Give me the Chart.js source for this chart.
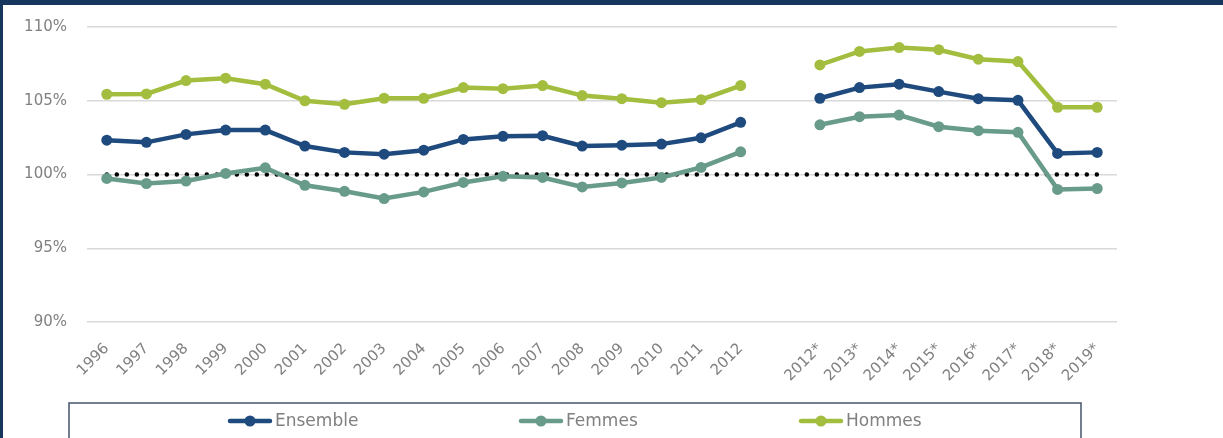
<!DOCTYPE html>
<html>
<head>
<meta charset="utf-8">
<script src="https://cdn.jsdelivr.net/npm/chart.js@4"></script>
<style>
  html, body { margin: 0; padding: 0; background: #fff; }
  .frame {
    width: 1220px;
    height: 433px;
    border-top: 5px solid #17365d;
    border-left: 3px solid #17365d;
    position: relative;
  }
  canvas { display: block; }
</style>
</head>
<body>
<div class="frame">
  <canvas id="chart" width="1220" height="433"></canvas>
</div>
<script>
const categories = ['1996', '1997', '1998', '1999', '2000', '2001', '2002', '2003', '2004', '2005',
  '2006', '2007', '2008', '2009', '2010', '2011', '2012', '',
  '2012*', '2013*', '2014*', '2015*', '2016*', '2017*', '2018*', '2019*'];

const ensemble = [102.33, 102.18, 102.72, 103.01, 103.01, 101.93, 101.5, 101.38, 101.65, 102.38,
  102.59, 102.63, 101.93, 101.99, 102.06, 102.49, 103.54, null,
  105.17, 105.89, 106.12, 105.62, 105.14, 105.03, 101.43, 101.5];

const femmes = [99.73, 99.39, 99.56, 100.07, 100.45, 99.27, 98.86, 98.37, 98.82, 99.46,
  99.88, 99.8, 99.16, 99.43, 99.8, 100.48, 101.54, null,
  103.37, 103.92, 104.03, 103.24, 102.97, 102.86, 98.99, 99.05];

const hommes = [105.44, 105.46, 106.37, 106.53, 106.12, 105.0, 104.76, 105.17, 105.17, 105.89,
  105.82, 106.03, 105.35, 105.14, 104.87, 105.07, 106.03, null,
  107.43, 108.34, 108.61, 108.46, 107.82, 107.66, 104.56, 104.56];

const reference = [100, 100, 100, 100, 100, 100, 100, 100, 100, 100, 100, 100, 100,
  100, 100, 100, 100, 100, 100, 100, 100, 100, 100, 100, 100, 100];

const yTicks = [90, 95, 100, 105, 110];

const colors = {
  ensemble: '#1f4a7e',
  femmes: '#689b89',
  hommes: '#a3be3e',
};
const textColor = '#808080';
const fontFamily = '"DejaVu Sans", sans-serif';

function serie(label, data, color) {
  return {
    label: label,
    data: data,
    borderColor: color,
    backgroundColor: color,
    borderWidth: 4.5,
    pointRadius: 5.5,
    pointHoverRadius: 5.5,
    pointBorderWidth: 0,
    tension: 0,
    spanGaps: false,
  };
}

// legend in a framed box under the axis, line + marker samples
const boxedLegend = {
  id: 'boxedLegend',
  afterDraw(chart) {
    const ctx = chart.ctx;
    ctx.save();
    ctx.strokeStyle = '#44546a';
    ctx.lineWidth = 1.5;
    ctx.strokeRect(66, 398, 1012, 60);

    const items = [
      { label: 'Ensemble', color: colors.ensemble, x: 225 },
      { label: 'Femmes', color: colors.femmes, x: 516 },
      { label: 'Hommes', color: colors.hommes, x: 796 },
    ];
    const y = 416;
    ctx.font = '17px ' + fontFamily;
    ctx.textBaseline = 'middle';
    items.forEach(item => {
      ctx.strokeStyle = item.color;
      ctx.lineWidth = 4.5;
      ctx.lineCap = 'round';
      ctx.beginPath();
      ctx.moveTo(item.x + 2, y);
      ctx.lineTo(item.x + 42, y);
      ctx.stroke();
      ctx.fillStyle = item.color;
      ctx.beginPath();
      ctx.arc(item.x + 22, y, 5.5, 0, Math.PI * 2);
      ctx.fill();
      ctx.fillStyle = textColor;
      ctx.fillText(item.label, item.x + 47, y + 1);
    });
    ctx.restore();
  }
};

new Chart(document.getElementById('chart'), {
  type: 'line',
  data: {
    labels: categories,
    datasets: [
      serie('Ensemble', ensemble, colors.ensemble),
      serie('Femmes', femmes, colors.femmes),
      serie('Hommes', hommes, colors.hommes),
      {
        label: '100%',
        data: reference,
        borderColor: '#000',
        borderWidth: 4.5,
        borderDash: [0, 10],
        borderCapStyle: 'round',
        pointRadius: 0,
        pointHoverRadius: 0,
      },
    ],
  },
  options: {
    responsive: false,
    animation: false,
    layout: { padding: { top: 22, right: 106, bottom: 56, left: 0 } },
    plugins: {
      legend: { display: false },
      tooltip: { enabled: false },
    },
    scales: {
      x: {
        offset: true,
        grid: { display: false },
        border: { display: false },
        ticks: {
          autoSkip: false,
          maxRotation: 45,
          minRotation: 45,
          padding: 10,
          color: textColor,
          font: { family: fontFamily, size: 15 },
        },
        afterFit: scale => { scale.height = 60; },
      },
      y: {
        min: 90,
        max: 110,
        afterBuildTicks: scale => { scale.ticks = yTicks.map(v => ({ value: v })); },
        grid: { color: '#d9d9d9', lineWidth: 1.5, drawTicks: false },
        border: { display: false },
        ticks: {
          padding: 20,
          color: textColor,
          font: { family: fontFamily, size: 15 },
          callback: v => v + '%',
        },
        afterFit: scale => {
          scale.width = 84;
          scale.paddingTop = 0;
          scale.paddingBottom = 0;
        },
      },
    },
  },
  plugins: [boxedLegend],
});
</script>
</body>
</html>
